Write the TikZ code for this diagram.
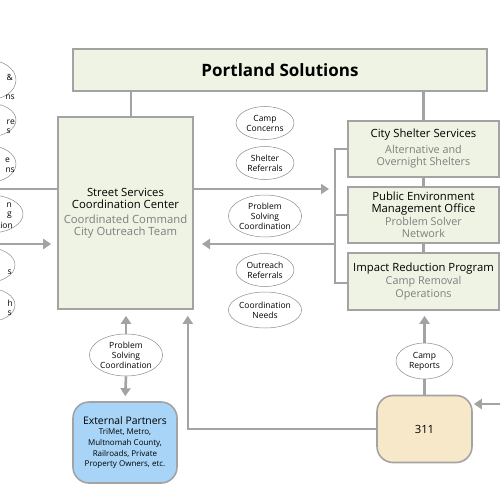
\documentclass[tikz,border=0pt]{standalone}
\usepackage{fontspec}
\setmainfont{Open Sans}
\usetikzlibrary{arrows.meta,shapes.geometric}
\definecolor{boxgreen}{HTML}{EEF3E3}
\definecolor{linegray}{HTML}{A3A3A3}
\definecolor{subgray}{HTML}{7F7F7F}
\definecolor{partblue}{HTML}{A8D5F7}
\definecolor{callbeige}{HTML}{F6E8C8}
\newcommand{\subtxt}[1]{{\fontsize{10.8}{12}\selectfont\color{subgray}#1}}
\begin{document}
\begin{tikzpicture}
[x=1pt, y=-1pt, font=\fontsize{11.3}{12.5}\selectfont,
link/.style={draw=linegray, line width=2.6pt},
flow/.style={link, -{Triangle[width=10pt,length=8pt]}},
block/.style={draw=linegray, line width=1.6pt, fill=boxgreen, inner sep=0pt, align=center},
bubble/.style={ellipse, draw=black!45, line width=0.5pt, fill=white, inner sep=0pt,
    minimum width=58pt, minimum height=33pt, align=center, font=\fontsize{8.5}{10}\selectfont},
frag/.style={anchor=east, inner sep=0pt, font=\fontsize{8.5}{10}\selectfont}]

\useasboundingbox (0,0) rectangle (500,500);

% cut-off bubbles on the left edge
\node[bubble, minimum width=56pt, minimum height=40pt] (lb1) at (-12,80) {};
\node[bubble, minimum width=56pt, minimum height=34pt] (lb2) at (-12,120) {};
\node[bubble, minimum width=56pt, minimum height=37pt] (lb3) at (-12,164) {};
\node[bubble, minimum width=66pt, minimum height=38pt] (lb4) at (-10,214) {};
\node[bubble, minimum width=56pt, minimum height=35pt] (lb5) at (-13,265) {};
\node[bubble, minimum width=56pt, minimum height=34pt] (lb6) at (-13,305) {};
\foreach \x/\y/\t [count=\i] in {13/77/\&, 15/97/ns, 15/122/re, 11/131/s, 10/160/e,
    15/170/ns, 12/205/n, 12/215/g, 13/225/tion, 12/272/s, 13/303/h, 12/313/s} {
    \node[frag] (lf\i) at (\x,\y) {\t};
}

% boxes
\node[block, minimum width=414pt, minimum height=42pt,
    font=\fontsize{17}{20}\selectfont\bfseries] (portland) at (280,70) {Portland Solutions};
\node[block, minimum width=135pt, minimum height=192pt] (sscc) at (125.5,213)
    {Street Services\\Coordination Center\\[2pt]
     \textcolor{subgray}{Coordinated Command}\\\textcolor{subgray}{City Outreach Team}};
\node[block, minimum width=151pt, minimum height=56pt] (shelter) at (423.5,149)
    {City Shelter Services\\[3pt]
     \subtxt{Alternative and}\\\subtxt{Overnight Shelters}};
\node[block, minimum width=151pt, minimum height=56pt] (pemo) at (423.5,215)
    {Public Environment\\Management Office\\
     \subtxt{Problem Solver}\\\subtxt{Network}};
\node[block, minimum width=151pt, minimum height=57pt] (irp) at (423.5,281.5)
    {Impact Reduction Program\\[1pt]
     \subtxt{Camp Removal}\\\subtxt{Operations}};
\node[block, fill=partblue, rounded corners=16pt, minimum width=104pt, minimum height=81pt,
    font=\fontsize{8}{10.7}\selectfont] (partners) at (125,442.5)
    {{\fontsize{10.4}{12}\selectfont External Partners}\\TriMet, Metro,\\Multnomah County,\\
     Railroads, Private\\Property Owners, etc.};
\node[block, fill=callbeige, rounded corners=16pt, minimum width=95pt, minimum height=67pt]
    (call) at (424.5,429) {311};

% connectors
\coordinate (bustop) at (335,149);
\coordinate (busbot) at (335,283);
\coordinate (outtip) at (329,189);
\coordinate (intip) at (202,244);
\coordinate (leftin) at (0,189);
\coordinate (leftarr) at (0,244);
\coordinate (rightin) at (500,404);

\draw[link] ([xshift=5.5pt]sscc.north) -- ([xshift=5.5pt]sscc.north |- portland.south);
\draw[link] (shelter.north) -- (shelter.north |- portland.south);
\draw[link] (shelter.south) -- (pemo.north);
\draw[link] (pemo.south) -- (irp.north);
\draw[link] (shelter.west |- bustop) -- (bustop) -- (busbot) -- (irp.west |- busbot);
\draw[link] (pemo.west) -- (pemo.west -| bustop);
\draw[flow] (sscc.east |- outtip) -- (outtip);
\draw[flow] (bustop |- intip) -- (intip);
\draw[link] (leftin) -- (sscc.west |- leftin);
\draw[flow, shorten >=6pt] (leftarr) -- (sscc.west |- leftarr);
\draw[flow, shorten >=6pt] (call.west) -| ([xshift=-6pt]sscc.south east);
\draw[flow, shorten >=5pt] (call.north) -- (call.north |- irp.south);
\draw[flow, shorten >=1pt] (rightin) -- (call.east |- rightin);

% message bubbles
\node[bubble] (concerns) at (265,123) {Camp\\Concerns};
\node[bubble] (referrals) at (265,163) {Shelter\\Referrals};
\node[bubble, minimum width=68pt, minimum height=42pt] (solving) at (265,216)
    {Problem\\Solving\\Coordination};
\node[bubble] (outreach) at (265,270) {Outreach\\Referrals};
\node[bubble, minimum height=36pt] (needs) at (265,310) {Coordination\\Needs};
\node[bubble, minimum width=69pt, minimum height=42pt] (partnerbub) at (126,355)
    {Problem\\Solving\\Coordination};
\node[bubble, minimum width=57pt, minimum height=36pt] (reports) at (424.5,361) {Camp\\Reports};

\draw[flow, shorten >=6pt] (partnerbub.north) -- (partnerbub.north |- sscc.south);
\draw[flow, shorten >=5pt] (partnerbub.south) -- (partners.north);

\end{tikzpicture}
\end{document}
